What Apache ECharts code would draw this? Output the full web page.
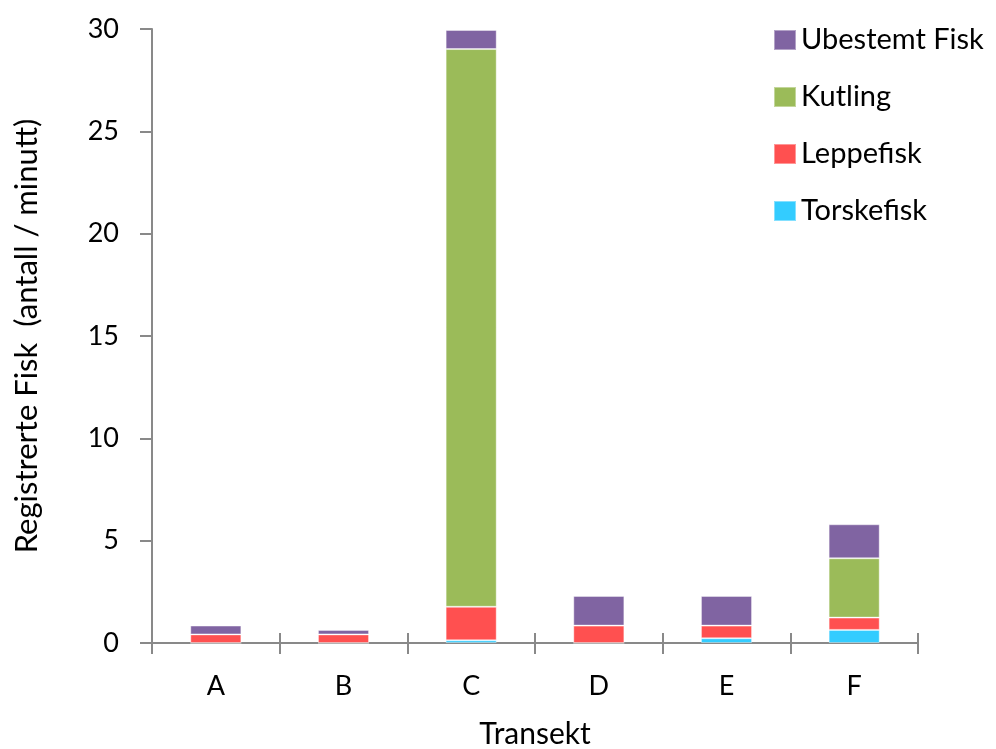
<!DOCTYPE html>
<html>
<head>
<meta charset="utf-8">
<script src="https://cdn.jsdelivr.net/npm/echarts@6/dist/echarts.min.js"></script>
<style>html,body{margin:0;padding:0;background:#fff}#c{width:996px;height:749px}</style>
</head>
<body>
<div id="c"></div>
<script>
var categories = ['A', 'B', 'C', 'D', 'E', 'F'];
var torskefisk = [0.0, 0.0, 0.13, 0.0, 0.23, 0.64];
var leppefisk = [0.42, 0.42, 1.64, 0.85, 0.62, 0.60];
var kutling = [0.0, 0.0, 27.25, 0.0, 0.0, 2.90];
var ubestemt = [0.43, 0.22, 0.93, 1.45, 1.45, 1.66];
var yTicks = { min: 0, max: 30, interval: 5 };

var FONT = 'Lato';
var axisColor = '#898989';
var chart = echarts.init(document.getElementById('c'));
function s(name, data, color) {
  return {
    name: name, type: 'bar', stack: 'total', data: data,
    xAxisIndex: 0, barCategoryGap: '60%',
    itemStyle: { color: color, borderColor: 'rgba(255,255,255,0.4)', borderWidth: 1 },
    emphasis: { disabled: true }
  };
}
chart.setOption({
  animation: false,
  backgroundColor: '#fff',
  textStyle: { fontFamily: FONT },
  grid: { left: 152, right: 78, top: 29, bottom: 106, containLabel: false, outerBoundsMode: 'none' },
  legend: {
    orient: 'vertical', left: 773, top: 25, padding: 0,
    itemWidth: 22, itemHeight: 20, itemGap: 27,
    icon: 'rect',
    data: ['Ubestemt Fisk', 'Kutling', 'Leppefisk', 'Torskefisk'],
    textStyle: { fontFamily: FONT, fontSize: 29, color: '#000', lineHeight: 30 }
  },
  xAxis: [{
    type: 'category', data: categories, position: 'bottom',
    axisLine: { show: true, lineStyle: { color: axisColor, width: 2 } },
    axisTick: { show: true, alignWithLabel: false, length: 11, lineStyle: { color: axisColor, width: 2 } },
    axisLabel: { fontFamily: FONT, fontSize: 27, color: '#000', margin: 30 },
    name: 'Transekt', nameLocation: 'middle', nameGap: 76,
    nameTextStyle: { fontFamily: FONT, fontSize: 30, color: '#000' },
    splitLine: { show: false }
  }, {
    type: 'category', data: categories, position: 'bottom',
    axisLine: { show: false },
    axisTick: { show: true, inside: true, length: 10, lineStyle: { color: axisColor, width: 2 } },
    axisLabel: { show: false },
    splitLine: { show: false }
  }],
  yAxis: {
    type: 'value', min: yTicks.min, max: yTicks.max, interval: yTicks.interval,
    axisLine: { show: true, lineStyle: { color: axisColor, width: 2 } },
    axisTick: { show: true, length: 12, lineStyle: { color: axisColor, width: 2 } },
    axisLabel: { fontFamily: FONT, fontSize: 27, color: '#000', margin: 33 },
    splitLine: { show: false },
    name: 'Registrerte Fisk  (antall / minutt)', nameLocation: 'middle', nameGap: 110,
    nameTextStyle: { fontFamily: FONT, fontSize: 31, color: '#000' }
  },
  series: [
    s('Torskefisk', torskefisk, '#33CCFF'),
    s('Leppefisk', leppefisk, '#FF5050'),
    s('Kutling', kutling, '#9BBB59'),
    s('Ubestemt Fisk', ubestemt, '#8064A2')
  ]
});
</script>
</body>
</html>
